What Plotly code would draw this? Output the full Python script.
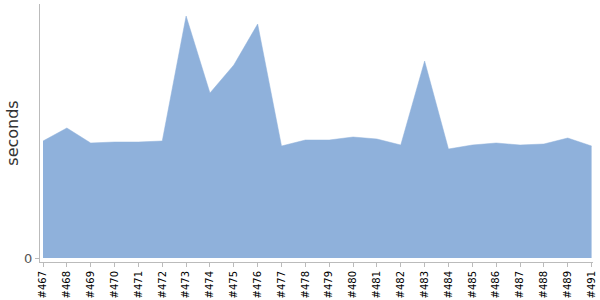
import plotly.graph_objects as go

builds = ["#467", "#468", "#469", "#470", "#471", "#472", "#473", "#474", "#475", "#476",
          "#477", "#478", "#479", "#480", "#481", "#482", "#483", "#484", "#485", "#486",
          "#487", "#488", "#489", "#491"]
seconds = [117, 130, 115, 116, 116, 117, 242, 165, 193, 234,
           112, 118, 118, 121, 119, 113, 197, 109, 113, 115,
           113, 114, 120, 112]

x_idx = list(range(len(builds)))

fig = go.Figure()
fig.add_trace(go.Scatter(
    x=x_idx, y=seconds, mode="lines", fill="tozeroy",
    line=dict(color="#8fb1db", width=0.5),
    fillcolor="#8fb1db", hoverinfo="skip", showlegend=False,
))

fig.update_layout(
    width=600, height=300,
    margin=dict(l=40, r=7, t=4, b=38),
    paper_bgcolor="white", plot_bgcolor="white",
    font=dict(family="DejaVu Sans", color="#000"),
    xaxis=dict(
        range=[-0.126, 23.06], automargin=False,
        tickmode="array", tickvals=x_idx, ticktext=builds,
        tickangle=-90, tickfont=dict(size=10, color="#000"),
        showgrid=False, zeroline=False,
        showline=True, linecolor="#bbbbbb", linewidth=1,
        ticks="outside", ticklen=4, tickcolor="#bbbbbb",
    ),
    yaxis=dict(
        range=[-4, 254], automargin=False,
        tickmode="array", tickvals=[0], ticktext=["0"],
        tickfont=dict(size=13, color="#555"),
        showgrid=False, zeroline=False,
        showline=True, linecolor="#bbbbbb", linewidth=1,
        ticks="outside", ticklen=4, tickcolor="#bbbbbb",
        title=dict(text="seconds", font=dict(size=16, color="#333"), standoff=1),
    ),
)

fig.write_html("out.html")
